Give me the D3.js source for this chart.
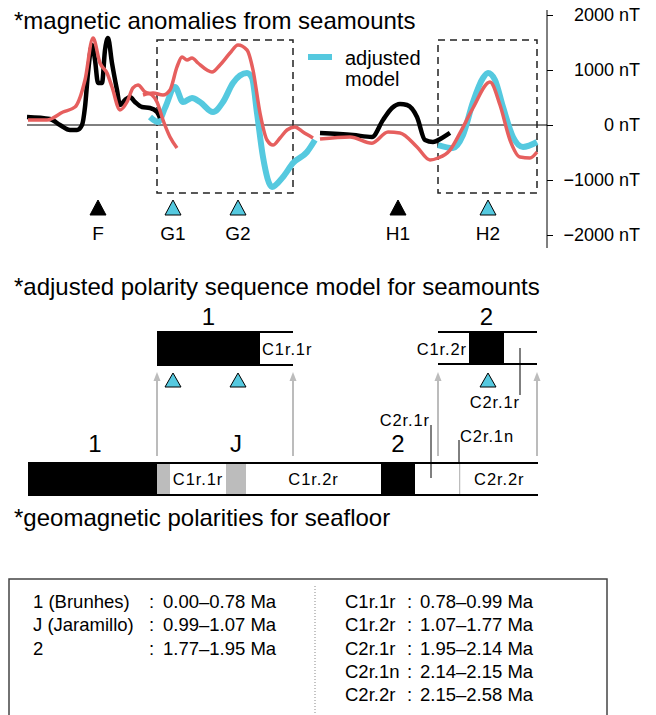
<!DOCTYPE html>
<html>
<head>
<meta charset="utf-8">
<script src="https://cdn.jsdelivr.net/npm/d3@7"></script>
<style>
  body { margin: 0; background: #fff; }
  svg text { font-family: "Liberation Sans", Arial, Helvetica, sans-serif; fill: #000; }
</style>
</head>
<body>
<div id="chart"></div>
<script>
// distance along profile (km) / anomaly (nT)
const observedA = [[0,145],[11.5,109],[16.5,0],[21.5,-91],[25,-91],[27.5,0],[29,327],[30.5,945],[32.5,1455],[34,1182],[35.5,764],[37.5,764],[39,1364],[40.5,1582],[42.5,1127],[45,636],[46.5,364],[49,455],[51.5,509],[54,418],[57.5,327],[61.5,309],[65,236],[66.5,127]];
const observedB = [[146.5,-145],[163,-182],[172.5,-218],[178,91],[182.5,309],[186.5,382],[190,364],[195,145],[199,-273],[203,-309],[207.5,-236],[211.5,-145]];

const initialA = [[0.5,91],[10,91],[18,236],[24,327],[29,818],[33,1582],[36.5,1127],[40,945],[42.5,691],[46.5,273],[50,418],[53,673],[55.5,727],[59,600],[62.5,545],[65,418],[68,91],[71.5,-218],[75,-418]];
const initialB = [[58,545],[63,582],[68,545],[71.5,636],[75,1055],[77.5,1236],[80,1182],[82.5,1218],[85.5,1127],[90,1000],[92.5,964],[96.5,1091],[101.5,1309],[105.5,1455],[110,1364],[113,1000],[116.5,218],[120,-273],[123,-364],[126.5,-236],[130,-91],[134,-36],[138,-127],[143,-236]];
const initialC = [[146.5,-255],[161.5,-218],[172.5,-330],[180.5,-127],[186.5,-145],[195,-400],[201.5,-636],[205.5,-600],[211.5,-455],[216.5,-145],[223,309],[231.5,782],[236.5,364],[241.5,-273],[246.5,-582],[251.5,-600],[255,-491]];

const adjustedA = [[61.5,145],[65.5,55],[69,309],[74,691],[78,418],[82.5,491],[86.5,418],[93,236],[98,418],[103,764],[110,945],[112.5,855],[115,218],[118,-582],[122.5,-1127],[128,-945],[133,-691],[140,-491],[144,-273]];
const adjustedB = [[205.5,-364],[213,-418],[218,-182],[223,418],[228,855],[230.5,945],[234,818],[238,327],[243,-218],[248,-400],[255,-309]];

const fitBoxes = [[65,133,1545,-1236],[205.5,255,1545,-1236]];
const yTicks = [2000, 1000, 0, -1000, -2000];

const seamounts = [
  { name: "F",  x: 35.5,  adjusted: false },
  { name: "G1", x: 73,    adjusted: true },
  { name: "G2", x: 105.5, adjusted: true },
  { name: "H1", x: 185.5, adjusted: false },
  { name: "H2", x: 230.5, adjusted: true }
];

// polarity bars (km along profile); kind: n = normal, r = reversed, t = transitional
const seafloorSegs = [
  { from: 0.5,   to: 65,     kind: "n" },
  { from: 65,    to: 71.5,   kind: "t" },
  { from: 71.5,  to: 99.5,   kind: "r", label: "C1r.1r" },
  { from: 99.5,  to: 109.5,  kind: "t" },
  { from: 109.5, to: 177,    kind: "r", label: "C1r.2r" },
  { from: 177,   to: 194,    kind: "n" },
  { from: 194,   to: 216,    kind: "r" },
  { from: 216,   to: 216.75, kind: "t" },
  { from: 216.75,to: 255.5,  kind: "r", label: "C2r.2r" }
];
const seafloorNames = [["1", 34], ["J", 104.5], ["2", 185.5]];

const modelSegs1 = [
  { from: 65,    to: 116.5, kind: "n" },
  { from: 116.5, to: 133,   kind: "r", label: "C1r.1r", anchor: "start" }
];
const modelSegs2 = [
  { from: 205.5, to: 221,   kind: "r", label: "C1r.2r", anchor: "end" },
  { from: 221,   to: 238.5, kind: "n" },
  { from: 238.5, to: 255,   kind: "r" }
];
const modelNames = [["1", 90.75], ["2", 229.75]];
const arrowsAt = [65, 133, 205.5, 255];
const modelTriangles = [73, 105.5, 230.5];

const tableLeft = [["1 (Brunhes)", "0.00\u20130.78 Ma"], ["J (Jaramillo)", "0.99\u20131.07 Ma"], ["2", "1.77\u20131.95 Ma"]];
const tableRight = [["C1r.1r", "0.78\u20130.99 Ma"], ["C1r.2r", "1.07\u20131.77 Ma"], ["C2r.1r", "1.95\u20132.14 Ma"], ["C2r.1n", "2.14\u20132.15 Ma"], ["C2r.2r", "2.15\u20132.58 Ma"]];

const W = 656, H = 715;
const CYAN = "#55c9df", RED = "#e65f5e", GREY = "#bcbcbc";

const svg = d3.select("#chart").append("svg")
  .attr("width", W).attr("height", H);
svg.append("rect").attr("width", W).attr("height", H).attr("fill", "#fff");

const x = d3.scaleLinear().domain([0, 260]).range([27, 547]);
const y = d3.scaleLinear().domain([-2000, 2000]).range([235, 15]);

/* ---- panel 1: anomalies ---- */
svg.append("text").attr("x", 14).attr("y", 29).attr("font-size", 24)
  .text("*magnetic anomalies from seamounts");

svg.append("line")
  .attr("x1", x(0)).attr("x2", x(260))
  .attr("y1", y(0)).attr("y2", y(0))
  .attr("stroke", "#000").attr("stroke-width", 1);

svg.selectAll("rect.box").data(fitBoxes).enter().append("rect")
  .attr("class", "box")
  .attr("x", d => x(d[0])).attr("width", d => x(d[1]) - x(d[0]))
  .attr("y", d => y(d[2])).attr("height", d => y(d[3]) - y(d[2]))
  .attr("fill", "none").attr("stroke", "#222").attr("stroke-width", 1.5)
  .attr("stroke-dasharray", "7,5");

const line = d3.line().x(d => x(d[0])).y(d => y(d[1])).curve(d3.curveMonotoneX);

function drawCurve(data, color, width) {
  svg.append("path").datum(data)
    .attr("d", line)
    .attr("fill", "none").attr("stroke", color).attr("stroke-width", width)
    .attr("stroke-linejoin", "round");
}
drawCurve(adjustedA, CYAN, 6);
drawCurve(adjustedB, CYAN, 6);
drawCurve(observedA, "#000", 4.5);
drawCurve(observedB, "#000", 4.5);
drawCurve(initialA, RED, 3.5);
drawCurve(initialB, RED, 3.5);
drawCurve(initialC, RED, 3.5);

// axis on the right
const axis = d3.axisRight(y).tickValues(yTicks).tickSize(6).tickSizeOuter(0)
  .tickFormat(d => (d < 0 ? "\u2212" + Math.abs(d) : d) + " nT");
const ax = svg.append("g").attr("transform", `translate(${x(260)},0)`).call(axis);
ax.select(".domain").remove();
ax.selectAll(".tick line").attr("stroke", "#000");
ax.selectAll(".tick text")
  .attr("x", 93).attr("text-anchor", "end")
  .attr("font-size", 18).attr("font-family", null);
ax.append("line").attr("y1", 10).attr("y2", 248).attr("stroke", "#000");

// legend
svg.append("line").attr("x1", 308).attr("x2", 332).attr("y1", 57).attr("y2", 57)
  .attr("stroke", CYAN).attr("stroke-width", 6);
svg.append("text").attr("x", 345).attr("y", 65).attr("font-size", 20).text("adjusted");
svg.append("text").attr("x", 345).attr("y", 86).attr("font-size", 20).text("model");

function triangle(cx, top, w, h) {
  return `M${cx - w / 2},${top + h}L${cx + w / 2},${top + h}L${cx},${top}Z`;
}
svg.selectAll("path.smt").data(seamounts).enter().append("path")
  .attr("class", "smt")
  .attr("d", d => triangle(x(d.x), 200, 16, 15))
  .attr("fill", d => d.adjusted ? CYAN : "#000")
  .attr("stroke", "#000").attr("stroke-width", 1);
svg.selectAll("text.smt").data(seamounts).enter().append("text")
  .attr("class", "smt")
  .attr("x", d => x(d.x)).attr("y", 240)
  .attr("text-anchor", "middle").attr("font-size", 19)
  .text(d => d.name);

/* ---- panel 2: polarity models ---- */
svg.append("text").attr("x", 14).attr("y", 295).attr("font-size", 24)
  .text("*adjusted polarity sequence model for seamounts");
svg.append("text").attr("x", 14).attr("y", 526).attr("font-size", 24)
  .text("*geomagnetic polarities for seafloor");

function drawBar(segs, top, bottom, labelY) {
  const g = svg.append("g");
  g.selectAll("rect").data(segs).enter().append("rect")
    .attr("x", d => x(d.from)).attr("width", d => x(d.to) - x(d.from))
    .attr("y", top).attr("height", bottom - top)
    .attr("fill", d => d.kind === "n" ? "#000" : d.kind === "t" ? GREY : "#fff");
  const x0 = x(segs[0].from), x1 = x(segs[segs.length - 1].to);
  [top, bottom].forEach(yy => {
    g.append("line").attr("x1", x0).attr("x2", x1).attr("y1", yy).attr("y2", yy)
      .attr("stroke", "#000").attr("stroke-width", 2);
  });
  g.selectAll("text").data(segs.filter(d => d.label)).enter().append("text")
    .attr("x", d => d.anchor === "start" ? x(d.from) + 2 : d.anchor === "end" ? x(d.to) - 2 : (x(d.from) + x(d.to)) / 2)
    .attr("y", labelY)
    .attr("text-anchor", d => d.anchor || "middle")
    .attr("font-size", 16.5).attr("letter-spacing", 0.9)
    .text(d => d.label);
}

// grey arrows from the seafloor bar up to the model bars
svg.selectAll("line.arr").data(arrowsAt).enter().append("line")
  .attr("class", "arr")
  .attr("x1", d => x(d)).attr("x2", d => x(d))
  .attr("y1", 456).attr("y2", 380)
  .attr("stroke", GREY).attr("stroke-width", 2);
svg.selectAll("path.arrhead").data(arrowsAt).enter().append("path")
  .attr("class", "arrhead")
  .attr("d", d => triangle(x(d), 372, 7, 9))
  .attr("fill", GREY);

drawBar(modelSegs1, 332, 365, 355);
drawBar(modelSegs2, 332, 364, 355);
drawBar(seafloorSegs, 463, 495, 485);

svg.selectAll("text.mname").data(modelNames).enter().append("text")
  .attr("class", "mname")
  .attr("x", d => x(d[1])).attr("y", 325).attr("text-anchor", "middle")
  .attr("font-size", 24).text(d => d[0]);
svg.selectAll("text.sname").data(seafloorNames).enter().append("text")
  .attr("class", "sname")
  .attr("x", d => x(d[1])).attr("y", 452).attr("text-anchor", "middle")
  .attr("font-size", 24).text(d => d[0]);

svg.selectAll("path.mtri").data(modelTriangles).enter().append("path")
  .attr("class", "mtri")
  .attr("d", d => triangle(x(d), 373, 16, 14))
  .attr("fill", CYAN).attr("stroke", "#000").attr("stroke-width", 1);

// leader lines for the thin chrons
const leaders = [
  { at: 246.5, y1: 348, y2: 395, label: "C2r.1r", ly: 408, anchor: "end", dx: 0 },
  { at: 202,   y1: 425, y2: 478, label: "C2r.1r", ly: 426, anchor: "end", dx: -1 },
  { at: 216,   y1: 440, y2: 463, label: "C2r.1n", ly: 442, anchor: "start", dx: 1 }
];
svg.selectAll("line.lead").data(leaders).enter().append("line")
  .attr("class", "lead")
  .attr("x1", d => x(d.at)).attr("x2", d => x(d.at))
  .attr("y1", d => d.y1).attr("y2", d => d.y2)
  .attr("stroke", "#000").attr("stroke-width", 1);
svg.selectAll("text.lead").data(leaders).enter().append("text")
  .attr("class", "lead")
  .attr("x", d => x(d.at) + d.dx).attr("y", d => d.ly)
  .attr("text-anchor", d => d.anchor)
  .attr("font-size", 16.5).attr("letter-spacing", 0.9)
  .text(d => d.label);

/* ---- age table ---- */
svg.append("rect").attr("x", 9).attr("y", 579).attr("width", 598).attr("height", 200)
  .attr("fill", "none").attr("stroke", "#444").attr("stroke-width", 1.5);
svg.append("line").attr("x1", 315).attr("x2", 315).attr("y1", 586).attr("y2", H)
  .attr("stroke", "#888").attr("stroke-width", 1).attr("stroke-dasharray", "1,2");

function drawTable(rows, xl, xc, xv) {
  const g = svg.append("g");
  rows.forEach((r, i) => {
    const yy = 608 + i * 23.3;
    g.append("text").attr("x", xl).attr("y", yy).attr("font-size", 18.5).text(r[0]);
    g.append("text").attr("x", xc).attr("y", yy).attr("font-size", 18.5).text(":");
    g.append("text").attr("x", xv).attr("y", yy).attr("font-size", 18.5).text(r[1]);
  });
}
drawTable(tableLeft, 33, 149, 163);
drawTable(tableRight, 345, 407, 420);
</script>
</body>
</html>
